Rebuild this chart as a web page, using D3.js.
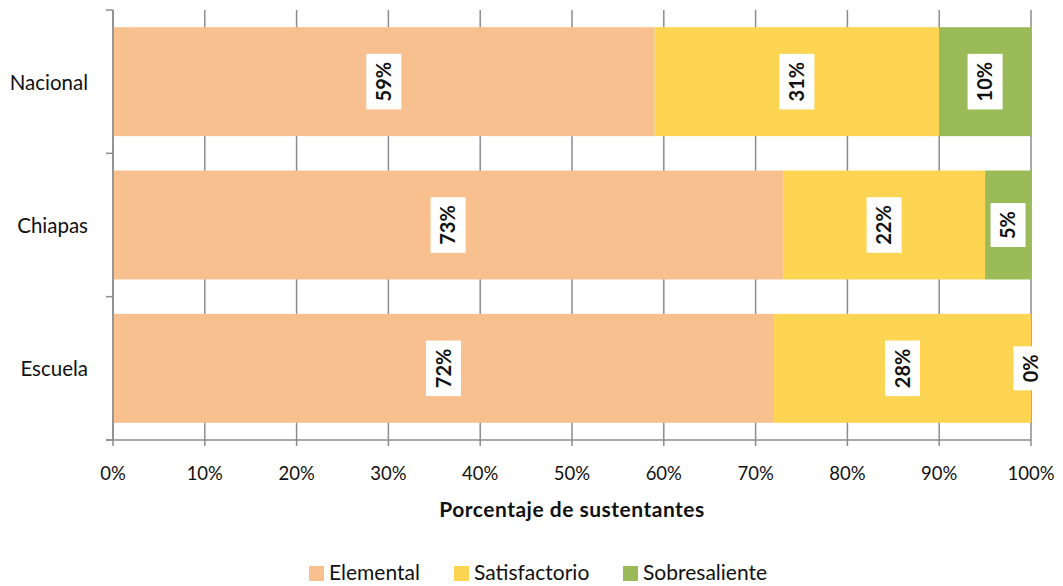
<!DOCTYPE html>
<html>
<head>
<meta charset="utf-8">
<script src="https://cdn.jsdelivr.net/npm/d3@7"></script>
<style>
  body { margin: 0; background: #fff; }
  text { font-family: Lato, "Open Sans", sans-serif; }
</style>
</head>
<body>
<svg id="chart" width="1063" height="586"></svg>
<script>
const categories = ['Nacional', 'Chiapas', 'Escuela']
const series = ['Elemental', 'Satisfactorio', 'Sobresaliente']
const elemental = [59, 73, 72]
const satisfactorio = [31, 22, 28]
const sobresaliente = [10, 5, 0]
const xTicks = [0, 10, 20, 30, 40, 50, 60, 70, 80, 90, 100]
const colors = ['#f9c08f', '#fdd552', '#9bbb59']

let svg = d3.select('#chart')
let x0 = 113, x1 = 1031, y0 = 10, y1 = 440

let rows = categories.map((c, i) => ({
    cat: c, Elemental: elemental[i], Satisfactorio: satisfactorio[i], Sobresaliente: sobresaliente[i]
}))
let stacked = d3.stack().keys(series)(rows)

let x = d3.scaleLinear().domain([0, 100]).range([x0, x1])
let y = d3.scaleBand().domain(categories).range([y0, y1]).paddingInner(0.24).paddingOuter(0.12)
let color = d3.scaleOrdinal().domain(series).range(colors)

// vertical gridlines
svg.append('g').selectAll('line')
    .data(xTicks)
    .join('line')
    .attr('x1', d => x(d)).attr('x2', d => x(d))
    .attr('y1', y0).attr('y2', y1 + 6)
    .style('stroke', '#8c8c8c').style('stroke-width', 1.5)

// bars
svg.append('g').selectAll('g')
    .data(stacked)
    .join('g')
    .attr('fill', d => color(d.key))
    .selectAll('rect')
    .data(d => d)
    .join('rect')
    .attr('x', d => x(d[0]))
    .attr('y', d => y(d.data.cat))
    .attr('width', d => x(d[1]) - x(d[0]))
    .attr('height', y.bandwidth())

// axes
let xAxis = svg.append('g').attr('transform', `translate(0,${y1})`)
xAxis.append('line').attr('x1', x0 - 7).attr('x2', x1)
    .style('stroke', '#8c8c8c').style('stroke-width', 1.5)
xAxis.selectAll('text')
    .data(xTicks)
    .join('text')
    .attr('x', d => x(d)).attr('y', 40)
    .attr('text-anchor', 'middle')
    .style('font-size', '18.5px').style('fill', '#111')
    .text(d => d + '%')

let yAxis = svg.append('g')
yAxis.append('line').attr('x1', x0).attr('x2', x0).attr('y1', y0).attr('y2', y1)
    .style('stroke', '#8c8c8c').style('stroke-width', 1.5)
yAxis.selectAll('line.tick')
    .data(d3.range(categories.length + 1))
    .join('line').attr('class', 'tick')
    .attr('x1', x0 - 7).attr('x2', x0)
    .attr('y1', i => y0 + i * (y1 - y0) / categories.length)
    .attr('y2', i => y0 + i * (y1 - y0) / categories.length)
    .style('stroke', '#8c8c8c').style('stroke-width', 1.5)
yAxis.selectAll('text')
    .data(categories)
    .join('text')
    .attr('x', 88).attr('y', d => y(d) + y.bandwidth() / 2 + 8)
    .attr('text-anchor', 'end')
    .style('font-size', '20.5px').style('fill', '#111')
    .text(d => d)

// axis title
svg.append('text')
    .attr('x', (x0 + x1) / 2).attr('y', 517)
    .attr('text-anchor', 'middle')
    .style('font-size', '21px').style('font-weight', 'bold').style('fill', '#111')
    .style('letter-spacing', '0.5px')
    .text('Porcentaje de sustentantes')

// data labels
let labels = svg.append('g').selectAll('g')
    .data(stacked.flatMap(s => s.map(d => ({ key: s.key, d }))))
    .join('g')
    .attr('transform', o => `translate(${x((o.d[0] + o.d[1]) / 2)},${y(o.d.data.cat) + y.bandwidth() / 2}) rotate(-90)`)
labels.each(function (o) {
    let g = d3.select(this)
    let t = g.append('text')
        .attr('text-anchor', 'middle').attr('dy', '0.36em')
        .style('font-size', '20px').style('font-weight', 'bold').style('fill', '#111')
        .text((o.d[1] - o.d[0]) + '%')
    let b = t.node().getBBox()
    g.insert('rect', 'text')
        .attr('x', b.x - 8).attr('y', -17.5)
        .attr('width', b.width + 16).attr('height', 35)
        .attr('fill', '#fff')
})

// legend
let legend = svg.append('g').attr('transform', 'translate(0,580)')
let lx = [309, 454, 623]
legend.selectAll('g')
    .data(series)
    .join('g')
    .attr('transform', (d, i) => `translate(${lx[i]},0)`)
    .each(function (d) {
        let g = d3.select(this)
        g.append('rect').attr('x', 0).attr('y', -14).attr('width', 15).attr('height', 15).attr('fill', color(d))
        g.append('text').attr('x', 20).attr('y', 0)
            .style('font-size', '21px').style('fill', '#111').text(d)
    })
</script>
</body>
</html>
